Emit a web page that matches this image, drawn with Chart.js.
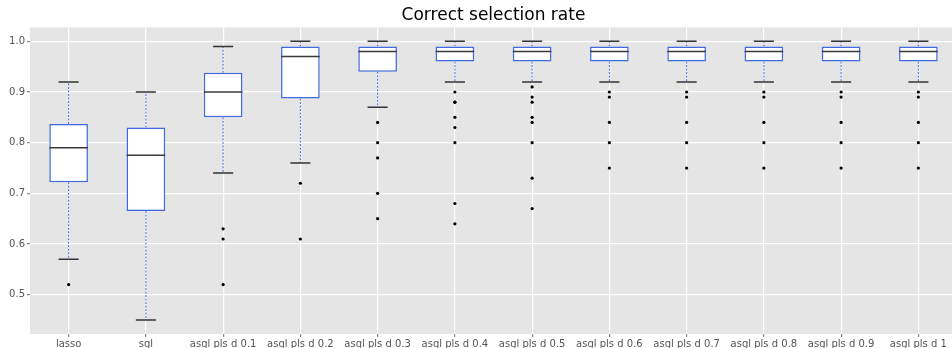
<!DOCTYPE html>
<html><head><meta charset="utf-8">
<script src="https://cdn.jsdelivr.net/npm/chart.js@4/dist/chart.umd.min.js"></script>
<style>html,body{margin:0;padding:0;overflow:hidden;background:#fff}#wrap{width:961px;height:348px}</style>
</head><body><div id="wrap"><canvas id="c" width="961" height="348"></canvas></div>
<script>
const categories = ['lasso','sgl','asgl pls d 0.1','asgl pls d 0.2','asgl pls d 0.3','asgl pls d 0.4','asgl pls d 0.5','asgl pls d 0.6','asgl pls d 0.7','asgl pls d 0.8','asgl pls d 0.9','asgl pls d 1'];
const whiskerLow  = [0.57, 0.45, 0.74, 0.76, 0.87, 0.92, 0.92, 0.92, 0.92, 0.92, 0.92, 0.92];
const q1          = [0.722,0.665,0.85, 0.887,0.94, 0.96, 0.96, 0.96, 0.96, 0.96, 0.96, 0.96];
const median      = [0.79, 0.775,0.90, 0.97, 0.98, 0.98, 0.98, 0.98, 0.98, 0.98, 0.98, 0.98];
const q3          = [0.837,0.83, 0.938,0.99, 0.99, 0.99, 0.99, 0.99, 0.99, 0.99, 0.99, 0.99];
const whiskerHigh = [0.92, 0.90, 0.99, 1.00, 1.00, 1.00, 1.00, 1.00, 1.00, 1.00, 1.00, 1.00];
const outliers = [
  [0.52],
  [],
  [0.63, 0.61, 0.52],
  [0.72, 0.61],
  [0.84, 0.80, 0.77, 0.70, 0.65],
  [0.90, 0.88, 0.88, 0.85, 0.83, 0.80, 0.68, 0.64],
  [0.91, 0.89, 0.88, 0.85, 0.84, 0.80, 0.73, 0.67],
  [0.90, 0.89, 0.84, 0.80, 0.75],
  [0.90, 0.89, 0.84, 0.80, 0.75],
  [0.90, 0.89, 0.84, 0.80, 0.75],
  [0.90, 0.89, 0.84, 0.80, 0.75],
  [0.90, 0.89, 0.84, 0.80, 0.75]
];
const yTicks = [0.5, 0.6, 0.7, 0.8, 0.9, 1.0];
const yMin = 0.4225, yMax = 1.0275;

const BLUE = '#4169e1';
const boxHalf = 0.25, capHalf = 0.13;

function segs(fn){ const out=[]; categories.forEach((_,i)=>{ fn(i).forEach(s=>{ out.push(s[0], s[1], {x:i, y:null}); }); }); return out; }

const whiskerData = segs(i => [
  [{x:i,y:q3[i]},{x:i,y:whiskerHigh[i]}],
  [{x:i,y:q1[i]},{x:i,y:whiskerLow[i]}]
]);
const capData = segs(i => [
  [{x:i-capHalf,y:whiskerHigh[i]},{x:i+capHalf,y:whiskerHigh[i]}],
  [{x:i-capHalf,y:whiskerLow[i]},{x:i+capHalf,y:whiskerLow[i]}]
]);
const medianData = segs(i => [[{x:i-boxHalf,y:median[i]},{x:i+boxHalf,y:median[i]}]]);
const boxData = categories.map((_,i)=>({x:i, y:[q1[i], q3[i]]}));
const outlierData = [];
outliers.forEach((arr,i)=>arr.forEach(v=>outlierData.push({x:i,y:v})));

const bgPlugin = {
  id:'plotbg',
  beforeDraw(chart){
    const {ctx, chartArea:a} = chart;
    ctx.save(); ctx.fillStyle='#e5e5e5'; ctx.fillRect(a.left,a.top,a.right-a.left,a.bottom-a.top); ctx.restore();
  }
};

new Chart(document.getElementById('c'), {
  type:'scatter',
  data:{ datasets:[
    {type:'line', data:whiskerData, borderColor:BLUE, borderWidth:1, borderDash:[2,1.5], pointRadius:0, spanGaps:false, order:5},
    {type:'bar', data:boxData, backgroundColor:'#ffffff', borderColor:BLUE, borderWidth:1.5, borderSkipped:false, barPercentage:0.5, categoryPercentage:1, order:4},
    {type:'line', data:capData, borderColor:'#333333', borderWidth:1.5, pointRadius:0, spanGaps:false, order:3},
    {type:'line', data:medianData, borderColor:'#3a3a3a', borderWidth:1.5, pointRadius:0, spanGaps:false, order:2},
    {type:'scatter', data:outlierData, backgroundColor:'#000', borderWidth:0, pointRadius:1.6, order:1}
  ]},
  options:{
    responsive:false, animation:false, devicePixelRatio:1,
    layout:{padding:0},
    plugins:{
      legend:{display:false}, tooltip:{enabled:false},
      title:{display:true, text:'Correct selection rate', color:'#000', fullSize:false,
        font:{family:'DejaVu Sans', size:17, weight:'normal'}, padding:{top:5,bottom:2}}
    },
    scales:{
      x:{type:'linear', min:-0.5, max:11.5, offset:false,
        afterBuildTicks(ax){ ax.ticks = categories.map((_,i)=>({value:i})); },
        afterFit(ax){ ax.height = 14; },
        ticks:{autoSkip:false, maxRotation:0, minRotation:0, padding:1, color:'#555',
          font:{family:'DejaVu Sans', size:10}, callback:(v)=>categories[v]},
        grid:{offset:false, color:'#ffffff', lineWidth:1.2, tickLength:3, tickColor:'#888', drawOnChartArea:true},
        border:{display:false}
      },
      y:{type:'linear', min:yMin, max:yMax,
        afterBuildTicks(ax){ ax.ticks = yTicks.map(v=>({value:v})); },
        afterFit(ax){ ax.width = 30; },
        ticks:{padding:2, color:'#555', font:{family:'DejaVu Sans', size:10}, callback:(v)=>v.toFixed(1)},
        grid:{color:'#ffffff', lineWidth:1.2, tickLength:3, tickColor:'#888'},
        border:{display:false}
      }
    }
  },
  plugins:[bgPlugin]
});
</script>
</body></html>
